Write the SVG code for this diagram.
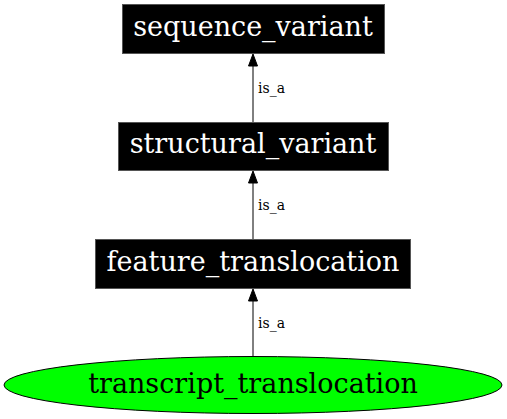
<svg xmlns="http://www.w3.org/2000/svg" width="507" height="419" viewBox="0 0 507 419">
<style>
.box{fill:#000;stroke:#555;stroke-width:1}
.nt{font-family:"DejaVu Serif",serif;font-size:27px;fill:#fff;text-anchor:middle}
.lt{font-family:"DejaVu Serif",serif;font-size:14px;fill:#000}
.e{stroke:#000;stroke-width:1;fill:none}
.ah{fill:#000;stroke:#000}
</style>
<rect width="507" height="419" fill="#fff"/>
<g id="connectors">
<line class="e" x1="253" y1="122" x2="253" y2="66"/>
<polygon class="ah" points="253,54 248.5,66 257.5,66"/>
<text class="lt" x="258" y="93">is_a</text>
<line class="e" x1="253" y1="239" x2="253" y2="183"/>
<polygon class="ah" points="253,171 248.5,183 257.5,183"/>
<text class="lt" x="258" y="210">is_a</text>
<line class="e" x1="253" y1="356" x2="253" y2="301"/>
<polygon class="ah" points="253,289 248.5,301 257.5,301"/>
<text class="lt" x="258" y="328">is_a</text>
</g>
<g id="sequence_variant">
<rect class="box" x="122.5" y="4.5" width="262" height="49"/>
<text class="nt" x="253" y="36">sequence_variant</text>
</g>
<g id="structural_variant">
<rect class="box" x="118.5" y="122.5" width="270" height="48"/>
<text class="nt" x="253" y="153">structural_variant</text>
</g>
<g id="feature_translocation">
<rect class="box" x="95.5" y="239.5" width="315" height="49"/>
<text class="nt" x="253" y="271">feature_translocation</text>
</g>
<g id="transcript_translocation">
<ellipse cx="253" cy="385" rx="249" ry="28.5" fill="#00ff00" stroke="#000"/>
<text class="nt" x="253" y="393" style="fill:#000">transcript_translocation</text>
</g>
</svg>
